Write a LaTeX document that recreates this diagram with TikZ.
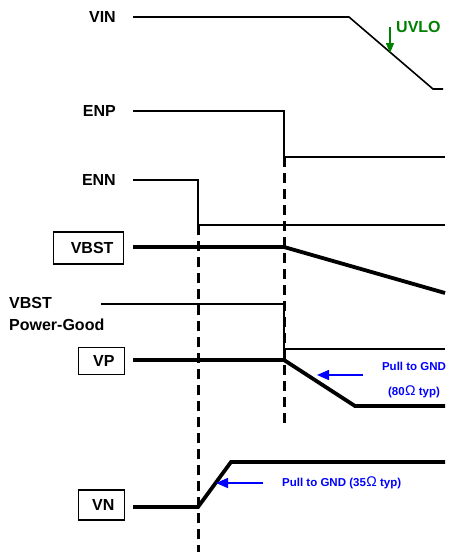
\documentclass[tikz,border=0pt]{standalone}
\usepackage{fontspec}
\setmainfont{Liberation Sans}
\usetikzlibrary{arrows.meta}
\definecolor{ugreen}{RGB}{0,128,0}
\definecolor{pblue}{RGB}{0,0,255}
\newcommand{\ohmsym}{{\mdseries\fontsize{14}{14}\selectfont\kern0.5pt Ω}\ }
\tikzset{timing/.style={x=1pt,y=-1pt,font=\bfseries\fontsize{16}{22}\selectfont},
  sig/.style={line width=1.6pt},
  rail/.style={line width=3.8pt},
  marker/.style={line width=3pt,dash pattern=on 10pt off 6pt},
  sigbox/.style={draw,line width=1.1pt,inner xsep=10pt,inner ysep=0pt,align=right,anchor=east},
  siglabel/.style={inner sep=0pt,anchor=east},
  pullnote/.style={pblue,font=\bfseries\fontsize{11.5}{25}\selectfont,inner sep=0pt},
  pullarrow/.style={pblue,line width=1.6pt,-{Triangle[length=12pt,width=10pt]}}}

\begin{document}
\begin{tikzpicture}[timing]
    \useasboundingbox (0,0) rectangle (449,552);
    % labels
    \node[siglabel] (vin) at (116,17) {VIN};
    \node[siglabel] (enp) at (116,111) {ENP};
    \node[siglabel] (enn) at (116,180) {ENN};
    \node[sigbox,text width=50pt,minimum height=32pt] (vbst) at (124,248) {VBST};
    \node[inner sep=0pt,anchor=west,align=left] (pg) at (9,314) {VBST\\Power-Good};
    \node[sigbox,text width=26pt,minimum height=27pt] (vp) at (125,361) {VP};
    \node[sigbox,text width=26pt,minimum height=30pt] (vn) at (125,505) {VN};
    % enable edges
    \draw[marker] (198,225) -- (198,552);
    \draw[marker] (284,157) -- (284,428);
    % waveforms
    \draw[sig] (133,17) -- (349,17) -- (433,89) -- (443,89);
    \draw[sig] (133,111) -- (284,111) -- (284,157) -- (445,157);
    \draw[sig] (133,180) -- (198,180) -- (198,225) -- (445,225);
    \draw[rail] (133,247) -- (284,247) -- (445,293);
    \draw[sig] (101,304) -- (284,304) -- (284,349) -- (445,349);
    \draw[rail] (133,360) -- (284,360) -- (355,406) -- (445,406);
    \draw[rail] (133,507) -- (198,507) -- (231,462) -- (445,462);
    % annotations
    \coordinate (uvlotop) at (390,27);
    \coordinate (uvlotip) at (390,53);
    \draw[ugreen,line width=1.4pt,-{Triangle[length=10pt,width=8pt]}] (uvlotop) -- (uvlotip);
    \node[ugreen,inner sep=0pt,anchor=west] (uvlo) at (396,27) {UVLO};
    \node[pullnote,align=center] (pullp) at (414,380) {Pull to GND\\(80\ohmsym typ)};
    \coordinate (pptail) at (363,375);
    \coordinate (pptip) at (317,375);
    \draw[pullarrow] (pptail) -- (pptip);
    \node[pullnote,anchor=west] (pulln) at (282,483) {Pull to GND (35\ohmsym typ)};
    \coordinate (pntail) at (263,483);
    \coordinate (pntip) at (216,483);
    \draw[pullarrow] (pntail) -- (pntip);
  \end{tikzpicture}
\end{document}
